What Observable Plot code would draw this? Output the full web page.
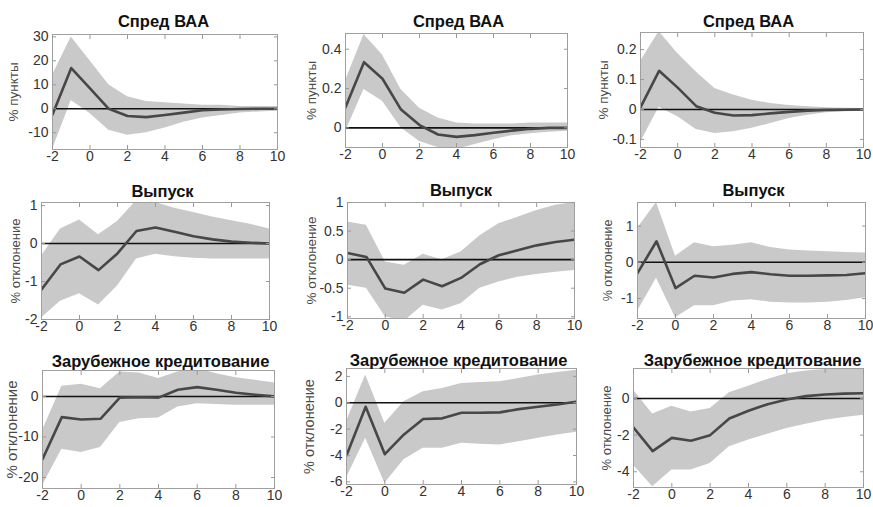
<!DOCTYPE html>
<html><head><meta charset="utf-8">
<script src="https://cdn.jsdelivr.net/npm/d3@7"></script>
<script src="https://cdn.jsdelivr.net/npm/@observablehq/plot@0.6"></script>
<style>
body{margin:0;background:#fff}
#root{position:relative;width:873px;height:507px;overflow:hidden;font-family:"Liberation Sans",Arial,sans-serif}
#root > div{position:absolute}
</style>
</head><body><div id="root"></div>
<script>
// ---- data ----
const horizon = [-2,-1,0,1,2,3,4,5,6,7,8,9,10];
const xTicks = [-2,0,2,4,6,8,10];
const titles = ["Спред ВАА","Выпуск","Зарубежное кредитование"];
const yLabels = ["% пункты","% отклонение","% отклонение"];

// row 1: Спред ВАА
const p1Mid = [-2.4,17,8.5,0,-3,-3.5,-2.6,-1.6,-0.6,-0.3,-0.1,0,0];
const p1Hi  = [14,30,20,10,5,3,2.5,2,1.5,1.5,1,1,1];
const p1Lo  = [-17,3.5,-2,-9,-11,-10,-8,-5.6,-3.8,-2.8,-1.8,-1.3,-1];
const p1YTicks = [-10,0,10,20,30];

const p2Mid = [0.105,0.334,0.25,0.093,0.014,-0.034,-0.046,-0.037,-0.025,-0.014,-0.005,0,0];
const p2Hi  = [0.24,0.475,0.37,0.195,0.10,0.05,0.025,0.02,0.02,0.02,0.025,0.025,0.025];
const p2Lo  = [-0.02,0.195,0.135,0.0,-0.07,-0.10,-0.11,-0.085,-0.06,-0.04,-0.03,-0.022,-0.017];
const p2YTicks = [0,0.2,0.4];

const p3Mid = [0.007,0.129,0.073,0.011,-0.011,-0.02,-0.019,-0.013,-0.008,-0.004,-0.002,-0.001,0];
const p3Hi  = [0.16,0.26,0.187,0.125,0.07,0.048,0.031,0.02,0.013,0.009,0.006,0.004,0.003];
const p3Lo  = [-0.11,0.007,-0.024,-0.067,-0.08,-0.074,-0.063,-0.047,-0.03,-0.019,-0.011,-0.008,-0.006];
const p3YTicks = [-0.1,0,0.1,0.2];

// row 2: Выпуск
const p4Mid = [-1.21,-0.55,-0.34,-0.70,-0.26,0.33,0.42,0.31,0.19,0.11,0.05,0.02,0];
const p4Hi  = [-0.33,0.38,0.62,0.23,0.58,1.13,1.08,0.93,0.82,0.70,0.60,0.51,0.38];
const p4Lo  = [-1.96,-1.52,-1.32,-1.62,-1.12,-0.41,-0.28,-0.35,-0.39,-0.41,-0.41,-0.41,-0.41];
const p4YTicks = [-2,-1,0,1];

const p5Mid = [0.116,0.047,-0.506,-0.58,-0.35,-0.465,-0.32,-0.08,0.076,0.163,0.25,0.31,0.35];
const p5Hi  = [0.66,0.6,-0.04,-0.1,0.093,0,0.134,0.42,0.63,0.74,0.86,0.95,1.0];
const p5Lo  = [-0.45,-0.5,-1.0,-1.08,-0.8,-0.88,-0.77,-0.5,-0.39,-0.31,-0.26,-0.22,-0.19];
const p5YTicks = [-1,-0.5,0,0.5,1];

const p6Mid = [-0.3,0.58,-0.71,-0.37,-0.42,-0.32,-0.27,-0.33,-0.37,-0.37,-0.36,-0.35,-0.3];
const p6Hi  = [0.93,1.65,0.17,0.54,0.43,0.47,0.54,0.41,0.34,0.31,0.29,0.27,0.26];
const p6Lo  = [-1.35,-0.44,-1.53,-1.2,-1.2,-1.07,-1.03,-1.1,-1.12,-1.12,-1.1,-1.05,-0.98];
const p6YTicks = [-1,0,1];

// row 3: Зарубежное кредитование
const p7Mid = [-15.5,-5.1,-5.7,-5.5,-0.3,-0.2,-0.3,1.65,2.3,1.65,0.9,0.4,0];
const p7Hi  = [-8.4,2.5,3,1.9,6.0,5.8,4.4,6,6.9,5.6,4.6,4,3.3];
const p7Lo  = [-22,-13,-13.8,-12.6,-6.4,-5.5,-5.3,-2.6,-1.8,-2,-2.2,-2.2,-2.2];
const p7YTicks = [-20,-10,0];

const p8Mid = [-4.0,-0.3,-3.9,-2.4,-1.23,-1.18,-0.76,-0.76,-0.73,-0.48,-0.3,-0.13,0.08];
const p8Hi  = [-1.43,2.1,-1.56,0.08,0.83,1.08,1.46,1.54,1.6,1.84,2.1,2.3,2.47];
const p8Lo  = [-5.7,-2.7,-6.1,-4.33,-3.45,-3.45,-3.07,-3.15,-3.2,-2.95,-2.7,-2.44,-2.24];
const p8YTicks = [-6,-4,-2,0,2];

const p9Mid = [-1.58,-2.87,-2.15,-2.31,-2.0,-1.09,-0.67,-0.31,-0.05,0.13,0.22,0.27,0.29];
const p9Hi  = [0.45,-0.85,-0.42,-0.73,-0.55,0.31,0.67,1.04,1.36,1.5,1.58,1.6,1.64];
const p9Lo  = [-3.64,-4.82,-3.91,-3.91,-3.55,-2.64,-2.27,-1.95,-1.64,-1.4,-1.18,-1.04,-0.91];
const p9YTicks = [-4,-2,0];

// ---- layout (page pixels of each frame) ----
const panels = [
  {row:0, mid:p1Mid, hi:p1Hi, lo:p1Lo, yt:p1YTicks, yd:[-17,31],      f:[52,34,277,149],  lo_:37, lfs:13.5, tdx:-1.5, tdy:-19},
  {row:0, mid:p2Mid, hi:p2Hi, lo:p2Lo, yt:p2YTicks, yd:[-0.1,0.48],   f:[345,33,567,147], lo_:32, lfs:13.5, tdx:2,    tdy:-18},
  {row:0, mid:p3Mid, hi:p3Hi, lo:p3Lo, yt:p3YTicks, yd:[-0.127,0.257],f:[640,32,863,147], lo_:35, lfs:13.5, tdx:-3.5, tdy:-17},
  {row:1, mid:p4Mid, hi:p4Hi, lo:p4Lo, yt:p4YTicks, yd:[-2,1.08],     f:[41,202,269,319], lo_:24, lfs:13,   tdx:7,    tdy:-17},
  {row:1, mid:p5Mid, hi:p5Hi, lo:p5Lo, yt:p5YTicks, yd:[-1.03,1.0],   f:[347,202,574,318],lo_:34, lfs:13.5, tdx:0,    tdy:-18},
  {row:1, mid:p6Mid, hi:p6Hi, lo:p6Lo, yt:p6YTicks, yd:[-1.55,1.65],  f:[637,202,865,318],lo_:27, lfs:12.5, tdx:2,    tdy:-18},
  {row:2, mid:p7Mid, hi:p7Hi, lo:p7Lo, yt:p7YTicks, yd:[-22.7,6.4],   f:[42,370,274,488], lo_:29, lfs:15,   tdx:2,    tdy:-15},
  {row:2, mid:p8Mid, hi:p8Hi, lo:p8Lo, yt:p8YTicks, yd:[-6.2,2.6],    f:[346,368,576,484],lo_:36, lfs:14.5, tdx:-3,   tdy:-14},
  {row:2, mid:p9Mid, hi:p9Hi, lo:p9Lo, yt:p9YTicks, yd:[-4.86,1.64],  f:[633,368,863,487],lo_:25, lfs:13,   tdx:4,    tdy:-14}
];

const root = document.getElementById("root");
const mL = 50, mR = 14, mT = 30, mB = 24;
const fmt = d => String(d);
const blank = () => "";
const tickColor = "#999";
const font = '"Liberation Sans",Arial,sans-serif';

for (const p of panels) {
  const [L,T,R,B] = p.f;
  const data = horizon.map((h,i) => ({h, mid:p.mid[i], lo:p.lo[i], hi:p.hi[i]}));
  const chart = Plot.plot({
    width: (R-L)+mL+mR, height: (B-T)+mT+mB,
    marginLeft: mL, marginRight: mR, marginTop: mT, marginBottom: mB,
    x: {domain:[-2,10]},
    y: {domain:p.yd},
    style: {fontFamily:font, fontSize:"13.5px", color:"#333", background:"transparent", overflow:"visible", maxWidth:"none"},
    marks: [
      Plot.areaY(data, {x:"h", y1:"lo", y2:"hi", fill:"#c9c9c9", clip:true}),
      Plot.ruleY([0], {stroke:"#111", strokeWidth:1.6}),
      Plot.lineY(data, {x:"h", y:"mid", stroke:"#474747", strokeWidth:2.6, clip:true}),
      Plot.frame({stroke:"#a0a0a0"}),
      Plot.axisX(xTicks, {tickSize:0, tickPadding:2, label:null, tickFormat:fmt, fill:"#333", fontSize:14}),
      Plot.axisX(xTicks, {tickSize:-4, tickPadding:0, label:null, tickFormat:blank, stroke:tickColor}),
      Plot.axisX(xTicks, {anchor:"top", tickSize:-4, tickPadding:0, label:null, tickFormat:blank, stroke:tickColor}),
      Plot.axisY(p.yt, {tickSize:0, tickPadding:4, tickFormat:fmt, fill:"#333", label:null, fontSize:14}),
      Plot.axisY(p.yt, {tickSize:-4, tickPadding:0, tickFormat:blank, stroke:tickColor, fill:"#4a4a4a", fontSize:p.lfs,
        label:yLabels[p.row], labelAnchor:"center", labelArrow:"none", labelOffset:p.lo_+7}),
      Plot.axisY(p.yt, {anchor:"right", tickSize:-4, tickPadding:0, label:null, tickFormat:blank, stroke:tickColor}),
      Plot.text([titles[p.row]], {frameAnchor:"top", dx:p.tdx, dy:p.tdy, fontWeight:"bold", fontSize:16.5, fill:"#111"})
    ]
  });
  const div = document.createElement("div");
  div.style.left = (L-mL)+"px";
  div.style.top = (T-mT)+"px";
  div.appendChild(chart);
  root.appendChild(div);
}
</script>
</body></html>
